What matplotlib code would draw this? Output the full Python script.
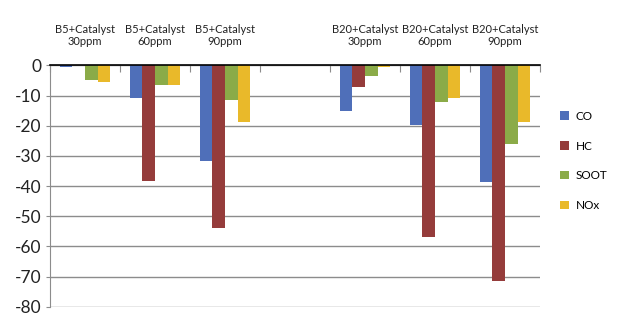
import matplotlib.pyplot as plt
import numpy as np

plt.rcParams['font.family'] = ['Lato', 'DejaVu Sans']

# data
kategori = ['B5+Catalyst\n30ppm', 'B5+Catalyst\n60ppm', 'B5+Catalyst\n90ppm', '',
            'B20+Catalyst\n30ppm', 'B20+Catalyst\n60ppm', 'B20+Catalyst\n90ppm']
co = [-0.5, -10.9, -31.7, 0, -15.1, -19.8, -38.5]
hc = [0, -38.3, -53.8, 0, -7.3, -57.0, -71.4]
soot = [-4.8, -6.6, -11.5, 0, -3.5, -12.2, -26.2]
nox = [-5.6, -6.4, -18.7, 0, -0.5, -10.7, -18.9]
seri = ['CO', 'HC', 'SOOT', 'NOx']
warna = ['#4f6fb9', '#953c3b', '#8bab48', '#e9b92a']
yticks = [0, -10, -20, -30, -40, -50, -60, -70, -80]

fig = plt.figure(figsize=(6.23, 3.31), dpi=100)
ax = fig.add_axes([50/623, 1-306.7/331, 490/623, 241.3/331])

x = np.arange(len(kategori))
lebar = 0.18
for i, (nilai, nama) in enumerate(zip([co, hc, soot, nox], seri)):
    ax.bar(x + (i - 1.5)*lebar, nilai, lebar, color=warna[i], label=nama, zorder=2)

ax.set_xlim(-0.5, len(kategori) - 0.5)
ax.set_ylim(-80, 0)
ax.set_yticks(yticks)
ax.set_yticklabels([str(v) for v in yticks], fontsize=12.5, color='#222222')
ax.yaxis.grid(True, color='#8c8c8c', lw=1)
ax.set_axisbelow(True)

for s in ['bottom', 'right']:
    ax.spines[s].set_visible(False)
ax.spines['left'].set_color('#8c8c8c')
ax.spines['top'].set_color('black')
ax.spines['top'].set_linewidth(1.2)
ax.tick_params(axis='y', length=3, color='#8c8c8c', pad=3)

# kategori di atas
ax.xaxis.tick_top()
ax.set_xticks(np.arange(len(kategori) + 1) - 0.5)
ax.set_xticklabels([])
ax.tick_params(axis='x', which='major', direction='in', length=5, color='#8c8c8c')
ax.set_xticks(x, minor=True)
ax.set_xticklabels(kategori, minor=True, fontsize=8, linespacing=1.15, color='#222222')
ax.tick_params(axis='x', which='minor', length=0, pad=13)

ax.legend(loc='center left', bbox_to_anchor=(1.02, 0.604), frameon=False,
          fontsize=8.5, handlelength=0.7, handleheight=0.7,
          labelspacing=1.6, handletextpad=0.6)

fig.savefig('out.png', dpi=100)
